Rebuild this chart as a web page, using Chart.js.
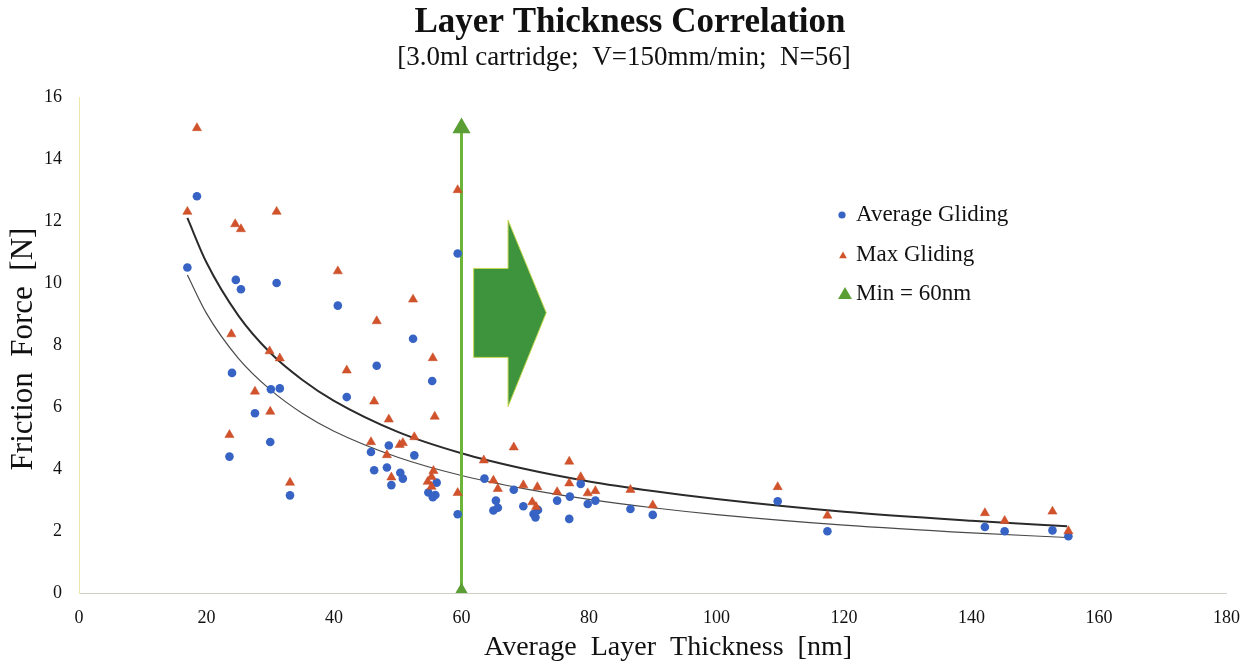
<!DOCTYPE html>
<html><head><meta charset="utf-8">
<script src="https://cdn.jsdelivr.net/npm/chart.js@4.4.1/dist/chart.umd.min.js"></script>
<style>html,body{margin:0;padding:0;background:#fff}#wrap{width:1254px;height:665px}</style>
</head><body><div id="wrap"><canvas id="c" width="1254" height="665"></canvas></div>
<script>
// ---- data ----
const avgX = [17.0,18.5,23.6,24.0,24.6,25.4,27.6,30.1,30.0,31.0,31.5,33.1,40.6,42.0,45.8,46.3,46.7,48.3,48.6,49.0,50.4,50.8,52.4,52.6,54.8,55.4,55.5,55.9,56.1,59.4,59.4,63.6,65.0,65.4,65.7,68.2,69.7,71.3,71.6,72.0,75.0,77.0,76.9,78.7,79.8,81.0,86.5,90.0,109.6,117.4,142.1,145.2,152.7,155.2];
const avgY = [10.5,12.8,4.4,7.1,10.1,9.8,5.8,6.57,4.87,10.0,6.6,3.15,9.27,6.32,4.55,3.96,7.33,4.05,4.76,3.48,3.88,3.69,8.2,4.44,3.24,6.84,3.09,3.16,3.56,10.95,2.54,3.69,2.66,2.98,2.75,3.33,2.8,2.55,2.44,2.68,2.98,3.11,2.39,3.52,2.87,2.98,2.71,2.52,2.96,1.99,2.13,1.99,2.02,1.83];
const maxX = [17.0,18.5,23.6,23.9,24.5,25.4,27.6,29.9,30.0,31.0,31.5,33.1,40.6,42.0,45.8,46.3,46.7,48.3,48.6,49.0,50.3,50.8,52.4,52.6,54.7,55.3,55.6,55.3,55.5,55.8,59.4,59.4,63.5,65.0,65.7,68.2,69.7,71.1,71.7,71.9,75.0,76.9,76.9,78.7,79.8,81.0,86.5,90.0,109.6,117.4,142.1,145.2,152.7,155.2];
const maxY = [12.3,15.0,5.1,8.35,11.9,11.74,6.5,7.8,5.85,12.3,7.57,3.56,10.38,7.18,4.87,6.18,8.77,4.45,5.6,3.73,4.78,4.84,9.47,5.03,3.59,3.75,3.94,3.43,7.58,5.69,13.0,3.23,4.28,3.63,3.36,4.7,3.48,2.93,2.78,3.42,3.26,4.24,3.54,3.74,3.22,3.29,3.33,2.83,3.42,2.5,2.58,2.33,2.63,2.0];
const minLineX = [60, 60];
const minLineY = [0, 15];
// trend curves
const trendX    = [17, 20, 25, 30, 35, 40, 50, 60, 70, 80, 90, 100, 120, 140, 155];
const trendMaxY = [12.1,10.66,8.95,7.75,6.88,6.2,5.2,4.51,4.0,3.6,3.29,3.03,2.62,2.33,2.15];
const trendAvgY = [10.26,9.02,7.57,6.56,5.8,5.22,4.38,3.79,3.36,3.02,2.75,2.53,2.19,1.94,1.79];
// arrow annotation (data units)
const arrowX = [61.9, 67.3, 67.3, 73.3, 67.3, 67.3, 61.9];
const arrowY = [10.47, 10.47, 12.03, 9.04, 6.01, 7.6, 7.6];
const legendLabels = ['Average Gliding', 'Max Gliding', 'Min = 60nm'];
const titleText = 'Layer Thickness Correlation';
const subtitleText = '[3.0ml cartridge;  V=150mm/min;  N=56]';
const xTitle = 'Average  Layer  Thickness  [nm]';
const yTitle = 'Friction  Force  [N]';

const pts = (xs, ys) => xs.map((x, i) => ({x, y: ys[i]}));
const SERIF = "'Liberation Serif', 'Times New Roman', serif";
const BLUE = '#3763c4', RED = '#d2532b', GREEN = '#5c9e36';

const arrowPlugin = {
  id: 'arrow',
  beforeDatasetsDraw(chart) {
    const {ctx, scales: {x, y}} = chart;
    ctx.save();
    ctx.beginPath();
    arrowX.forEach((v, i) => {
      const px = x.getPixelForValue(v), py = y.getPixelForValue(arrowY[i]);
      i ? ctx.lineTo(px, py) : ctx.moveTo(px, py);
    });
    ctx.closePath();
    ctx.fillStyle = '#3e943c';
    ctx.fill();
    ctx.strokeStyle = '#c9d955';
    ctx.lineWidth = 1;
    ctx.stroke();
    ctx.restore();
  }
};

const textPlugin = {
  id: 'texts',
  afterDraw(chart) {
    const {ctx} = chart;
    ctx.save();
    ctx.fillStyle = '#111';
    ctx.textAlign = 'center';
    ctx.textBaseline = 'middle';
    ctx.font = 'bold 35px ' + SERIF;
    ctx.fillText(titleText, 630, 23);
    ctx.font = '27px ' + SERIF;
    ctx.fillText(subtitleText, 624, 58);
    ctx.font = '28px ' + SERIF;
    ctx.fillText(xTitle, 668, 648);
    ctx.translate(24, 349);
    ctx.rotate(-Math.PI / 2);
    ctx.font = '31px ' + SERIF;
    ctx.fillText(yTitle, 0, 0);
    ctx.restore();
  }
};

const legendPlugin = {
  id: 'customLegend',
  afterDraw(chart) {
    const {ctx} = chart;
    const mx = 842, tx = 856, rows = [215, 255, 294];
    ctx.save();
    ctx.font = '23px ' + SERIF;
    ctx.fillStyle = '#111';
    ctx.textBaseline = 'middle';
    ctx.textAlign = 'left';
    legendLabels.forEach((t, i) => ctx.fillText(t, tx, rows[i]));
    ctx.fillStyle = BLUE;
    ctx.beginPath(); ctx.arc(mx, rows[0], 3.6, 0, Math.PI * 2); ctx.fill();
    const tri = (cx, cy, r, col) => {
      ctx.fillStyle = col; ctx.beginPath();
      for (let k = 0; k < 3; k++) {
        const a = k * 2 * Math.PI / 3;
        const px = cx + Math.sin(a) * r, py = cy - Math.cos(a) * r;
        k ? ctx.lineTo(px, py) : ctx.moveTo(px, py);
      }
      ctx.closePath(); ctx.fill();
    };
    tri(mx + 1, rows[1] + 1, 4.5, RED);
    tri(mx + 3, rows[2] + 1, 8, GREEN);
    ctx.restore();
  }
};

new Chart(document.getElementById('c'), {
  type: 'scatter',
  data: {
    datasets: [
      {label: 'Max Gliding', data: pts(maxX, maxY), pointStyle: 'triangle', pointRadius: 5.3,
       backgroundColor: RED, borderColor: '#c44a24', borderWidth: 0.5, order: 0},
      {label: 'Average Gliding', data: pts(avgX, avgY), pointStyle: 'circle', pointRadius: 4.3,
       backgroundColor: BLUE, borderColor: BLUE, borderWidth: 0, order: 1},
      {label: 'Min = 60nm', data: pts(minLineX, minLineY), showLine: true, borderColor: '#6cb43a', borderWidth: 3,
       pointStyle: 'triangle', pointRadius: 7.5, pointBackgroundColor: GREEN, pointBorderColor: GREEN, order: 2},
      {label: 'trendMax', data: pts(trendX, trendMaxY), showLine: true, borderColor: '#2b2b2b', borderWidth: 2,
       pointRadius: 0, cubicInterpolationMode: 'monotone', order: 3},
      {label: 'trendAvg', data: pts(trendX, trendAvgY), showLine: true, borderColor: '#4a4a4a', borderWidth: 1.2,
       pointRadius: 0, cubicInterpolationMode: 'monotone', order: 4}
    ]
  },
  options: {
    responsive: false,
    animation: false,
    devicePixelRatio: 1,
    layout: {padding: {left: 0, right: 24, top: 97, bottom: 0}},
    plugins: {
      legend: {display: false},
      tooltip: {enabled: false},
      title: {display: false},
      subtitle: {display: false}
    },
    scales: {
      x: {
        type: 'linear', min: 0, max: 180,
        ticks: {stepSize: 20, color: '#111', font: {family: SERIF, size: 18}, padding: 14},
        grid: {display: false, drawTicks: false},
        border: {display: true, color: '#cfcfc8', width: 1},
        title: {display: false},
        afterFit(s) { s.height = 72; }
      },
      y: {
        type: 'linear', min: 0, max: 16,
        ticks: {stepSize: 2, color: '#111', font: {family: SERIF, size: 18}, padding: 17},
        grid: {display: false, drawTicks: false},
        border: {display: true, color: '#ece7a8', width: 1},
        title: {display: false},
        afterFit(s) { s.width = 79; }
      }
    }
  },
  plugins: [arrowPlugin, textPlugin, legendPlugin]
});
</script>
</body></html>
